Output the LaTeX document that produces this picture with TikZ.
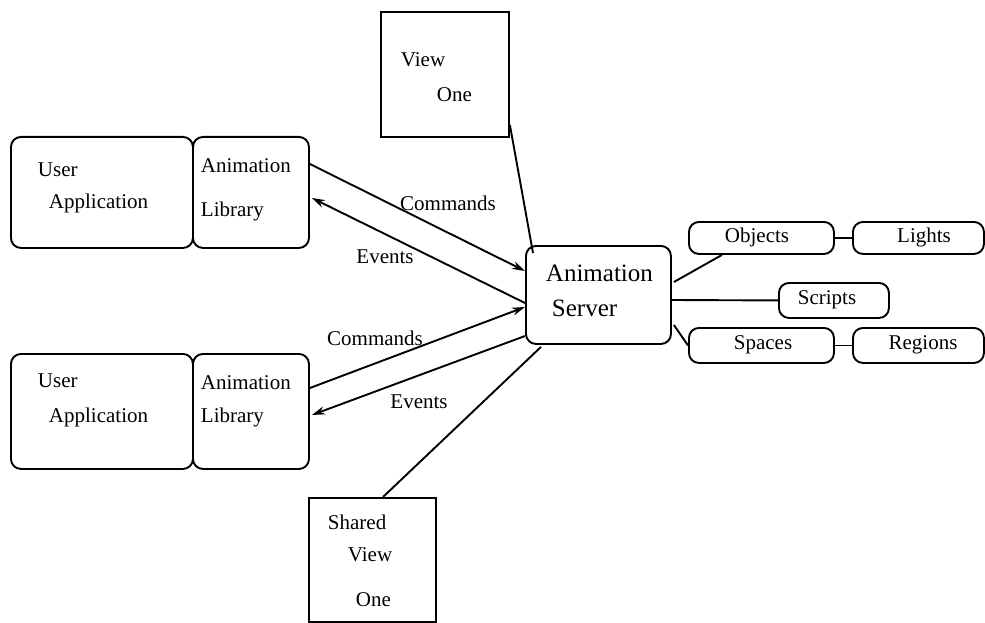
\documentclass[tikz,border=0pt]{standalone}
\usepackage{fontspec}
\setmainfont{Liberation Serif}
\usetikzlibrary{arrows.meta,calc}
\begin{document}
\begin{tikzpicture}[x=1pt,y=-1pt,
  line width=1.9pt,
  rbox/.style={draw, rounded corners=10pt, inner sep=0pt, anchor=north west},
  sbox/.style={draw, inner sep=0pt, anchor=north west},
  pill/.style={draw, rounded corners=10pt, inner sep=0pt, anchor=north west},
  txt/.style={inner sep=0pt, anchor=west, font=\fontsize{21}{24}\selectfont},
  bigtxt/.style={inner sep=0pt, anchor=west, font=\fontsize{25}{28}\selectfont},
  ctxt/.style={inner sep=0pt, font=\fontsize{21}{24}\selectfont},
  arr/.style={-{Stealth[length=13pt,width=8pt]}},
  link/.style={draw}
]
\useasboundingbox (0,0) rectangle (985,623);

% top client
\node[rbox, minimum width=182pt, minimum height=111pt] (ua1) at (10,136) {};
\node[rbox, minimum width=116pt, minimum height=111pt] (lib1) at (192,136) {};
\node[txt] (ua1a) at (37,170) {User};
\node[txt] (ua1b) at (48,203) {Application};
\node[txt] (lib1a) at (200,166) {Animation};
\node[txt] (lib1b) at (200,211) {Library};

% bottom client
\node[rbox, minimum width=182pt, minimum height=115pt] (ua2) at (10,353) {};
\node[rbox, minimum width=116pt, minimum height=115pt] (lib2) at (192,353) {};
\node[txt] (ua2a) at (37,381) {User};
\node[txt] (ua2b) at (48,417) {Application};
\node[txt] (lib2a) at (200,383) {Animation};
\node[txt] (lib2b) at (200,417) {Library};

% view one
\node[sbox, minimum width=128pt, minimum height=125pt] (v1) at (380,11) {};
\node[txt] (v1a) at (400,60) {View};
\node[txt] (v1b) at (436,95) {One};

% shared view one
\node[sbox, minimum width=127pt, minimum height=124pt] (sv) at (308,497) {};
\node[txt] (sva) at (327,522) {Shared};
\node[txt] (svb) at (347,555) {View};
\node[txt] (svc) at (355,600) {One};

% server
\node[rbox, minimum width=145pt, minimum height=98pt] (srv) at (525,245) {};
\node[bigtxt] (srva) at (545,273) {Animation};
\node[bigtxt] (srvb) at (551,308) {Server};

% right side
\node[pill, minimum width=145pt, minimum height=32pt] (obj) at (688,221) {};
\node[ctxt] (objt) at (757,237) {Objects};
\node[pill, minimum width=131pt, minimum height=32pt] (lig) at (852,221) {};
\node[ctxt] (ligt) at (924,237) {Lights};
\node[pill, minimum width=110pt, minimum height=35pt] (scr) at (778,282) {};
\node[ctxt] (scrt) at (827,300) {Scripts};
\node[pill, minimum width=145pt, minimum height=35pt] (spa) at (688,327) {};
\node[ctxt] (spat) at (763,345) {Spaces};
\node[pill, minimum width=131pt, minimum height=35pt] (reg) at (852,327) {};
\node[ctxt] (regt) at (923,345) {Regions};

% arrows top
\draw[arr] ($(lib1.north east)+(0,28)$) -- ($(srv.north west)+(0,26)$);
\draw[arr] ($(srv.north west)+(0,58)$) -- ($(lib1.north east)+(2,62)$);
\node[ctxt] (cmd1) at (448,203) {Commands};
\node[ctxt] (ev1) at (385,257) {Events};

% arrows bottom
\draw[arr] ($(lib2.north east)+(0,35)$) -- ($(srv.north west)+(0,62)$);
\draw[arr] ($(srv.north west)+(0,91)$) -- ($(lib2.north east)+(2,62)$);
\node[ctxt] (cmd2) at (375,338) {Commands};
\node[ctxt] (ev2) at (419,402) {Events};

% view links
\draw[link] ($(v1.north east)+(0,114)$) -- ($(srv.north west)+(8,8)$);
\draw[link] ($(srv.south west)+(16,2)$) -- ($(sv.north west)+(75,0)$);

% right links
\draw[link] ($(srv.north east)+(2,37)$) -- ($(obj.south west)+(34,0)$);
\draw[link] ($(srv.north east)+(0,55)$) -- (scr.west);
\draw[link] ($(srv.north east)+(2,80)$) -- (spa.west);
\draw[link] (obj.east) -- (lig.west);
\draw[link] (spa.east) -- (reg.west);
\end{tikzpicture}
\end{document}
